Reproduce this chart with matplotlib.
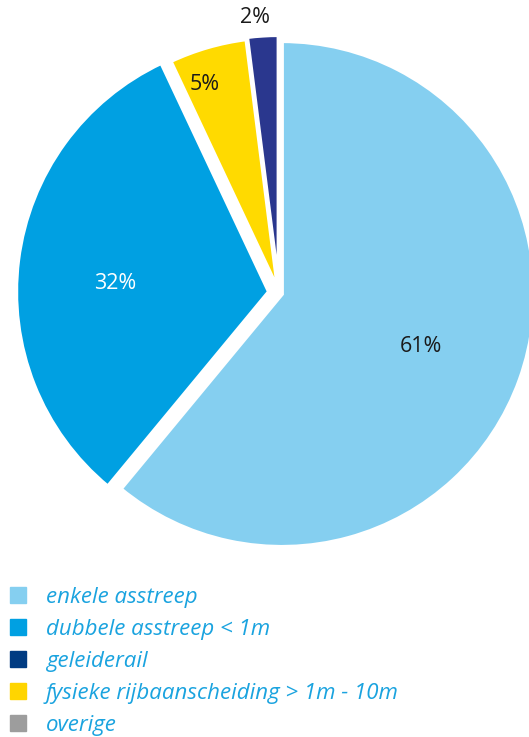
import numpy as np
import matplotlib
matplotlib.use("Agg")
import matplotlib.pyplot as plt
from matplotlib.lines import Line2D

# categories in legend order
categories = ["enkele asstreep", "dubbele asstreep < 1m", "geleiderail",
              "fysieke rijbaanscheiding > 1m - 10m", "overige"]
shares = [61, 32, 2, 5, 0]
pie_colors = ["#85CFF0", "#00A0E2", "#2A378E", "#FFDA00", "#9D9D9D"]
legend_colors = ["#85CFF0", "#00A0E2", "#003B82", "#FFD500", "#9D9D9D"]
label_colors = ["#1a1a1a", "white", "#1a1a1a", "#1a1a1a", "#1a1a1a"]
pie_order = [0, 1, 3, 2]   # clockwise from 12 o'clock (overige = 0, not drawn)

# style: offset of each wedge and where its label sits (distance, angle tweak)
explode_px = {0: 3, 1: 10, 3: 3, 2: 5}
label_place = {0: (0.60, -1.0), 1: (0.65, 4.0), 3: (0.876, 3.4), 2: (1.095, 1.4)}

plt.rcParams["font.family"] = ["Open Sans", "DejaVu Sans"]

fig = plt.figure(figsize=(5.29, 7.37), dpi=100)
ax = fig.add_axes([0, 0, 1, 1])

R = 253.0          # pixels per unit radius
cx, cy = 279, 293  # pie centre in pixels from the top-left corner

vals = [shares[i] for i in pie_order]
wedges, texts, autotexts = ax.pie(
    vals, colors=[pie_colors[i] for i in pie_order],
    startangle=90, counterclock=False, radius=1,
    explode=[explode_px[i] / R for i in pie_order],
    wedgeprops=dict(edgecolor="white", linewidth=3),
    autopct="%d%%", pctdistance=0.62,
    textprops=dict(fontsize=15.5))

# pie() resets the limits, so place the pie on the page afterwards
ax.set_xlim(-cx / R, (529 - cx) / R)
ax.set_ylim(-(737 - cy) / R, cy / R)
ax.axis("off")

for w, t, i in zip(wedges, autotexts, pie_order):
    t.set_color(label_colors[i])
    d, tweak = label_place[i]
    ang = np.deg2rad((w.theta1 + w.theta2) / 2 + tweak)
    t.set_position((d * np.cos(ang), d * np.sin(ang)))

handles = [Line2D([], [], marker="s", linestyle="", markersize=11, color=c)
           for c in legend_colors]
leg = ax.legend(handles, categories, loc="upper left",
                bbox_to_anchor=(0.0, 1 - 581 / 737), bbox_transform=fig.transFigure,
                frameon=False, handlelength=1.1, handletextpad=0.7,
                labelspacing=0.5, borderaxespad=0.0, borderpad=0.25,
                prop=dict(style="italic", size=16))
for t in leg.get_texts():
    t.set_color("#1AA3DF")

fig.savefig("out.png", dpi=100)
